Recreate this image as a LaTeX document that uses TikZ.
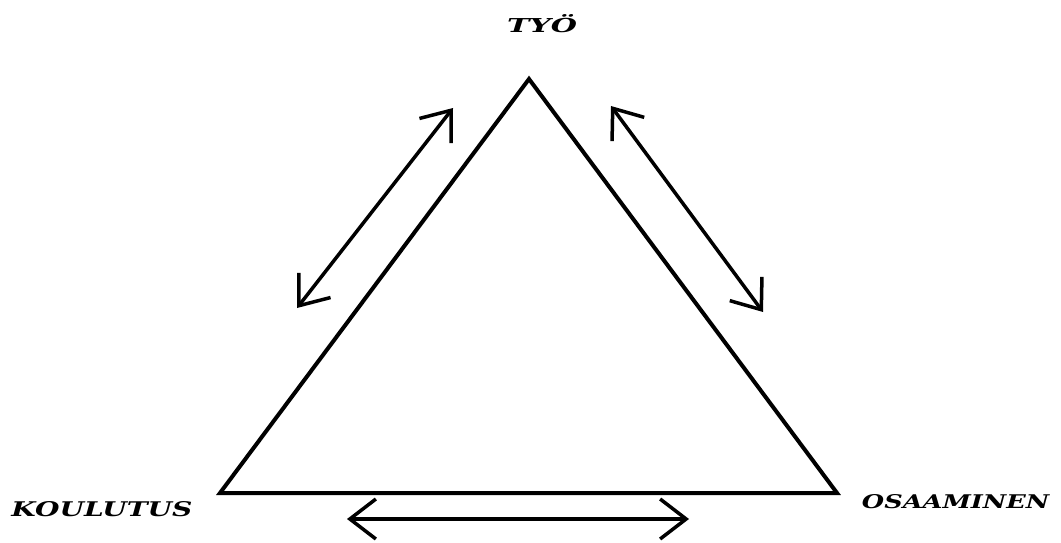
\documentclass[tikz,border=0pt]{standalone}
\usepackage{fontspec}
\setmainfont{DejaVu Serif}
\usetikzlibrary{arrows.meta}
\tikzset{
  edge/.style={line width=4pt, line join=miter},
  twoway/.style={line width=3.5pt, {Straight Barb[length=26pt,width=40pt,line width=3.5pt]}-{Straight Barb[length=26pt,width=40pt,line width=3.5pt]}},
  lbl/.style={inner sep=0pt, anchor=base}
}
\begin{document}
\begin{tikzpicture}[x=1pt,y=-1pt]
\useasboundingbox (0,0) rectangle (1061,543);
\fill[white] (0,0) rectangle (1061,543);
\coordinate (top) at (529,79);
\coordinate (bl) at (220,493);
\coordinate (br) at (837,493);
\draw[edge] (top) -- (bl) -- (br) -- cycle;
\coordinate (la) at (297,308);
\coordinate (lb) at (453,108);
\coordinate (ra) at (611,106);
\coordinate (rb) at (763,312);
\coordinate (ba) at (347,519);
\coordinate (bb) at (689,519);
\draw[twoway] (la) -- (lb);
\draw[twoway] (ra) -- (rb);
\draw[twoway] (ba) -- (bb);
\node[lbl] (tyo) at (542,33) {\resizebox{70pt}{18pt}{\textbf{\textit{TYÖ}}}};
\node[lbl] (koul) at (102,516) {\resizebox{181pt}{15pt}{\textbf{\textit{KOULUTUS}}}};
\node[lbl] (osaa) at (956,508) {\resizebox{188pt}{14pt}{\textbf{\textit{OSAAMINEN}}}};
\end{tikzpicture}
\end{document}
